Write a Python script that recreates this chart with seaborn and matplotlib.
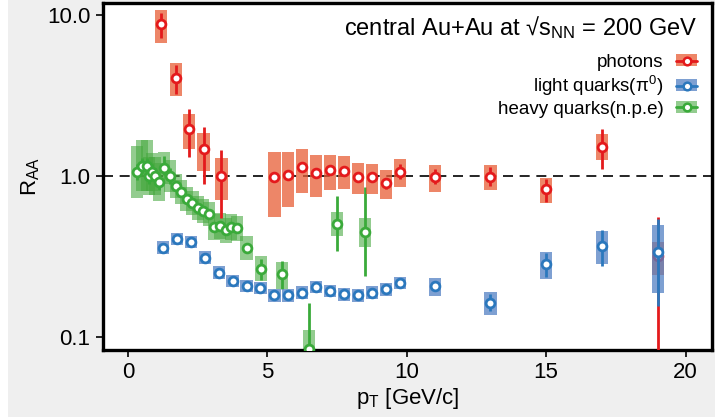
import numpy as np
import pandas as pd
import matplotlib
matplotlib.use("Agg")
import matplotlib.pyplot as plt
from matplotlib.patches import Rectangle
from matplotlib.lines import Line2D
from matplotlib.ticker import NullLocator, FixedLocator, FixedFormatter
import seaborn as sns

# ---------------- direct photons ----------------
pt_gamma = [1.17, 1.71, 2.19, 2.71, 3.35, 5.25, 5.75, 6.25, 6.75, 7.25, 7.75, 8.25,
            8.75, 9.25, 9.75, 11.0, 13.0, 15.0, 17.0, 19.0]
raa_gamma = [8.75, 4.04, 1.96, 1.47, 1.00, 0.99, 1.02, 1.14, 1.04, 1.09, 1.08, 0.98,
             0.98, 0.905, 1.06, 0.99, 0.99, 0.83, 1.52, 0.318]
sys_lo_gamma = [6.73, 3.14, 1.48, 1.07, 0.71, 0.559, 0.642, 0.781, 0.741, 0.815, 0.827, 0.77,
                0.776, 0.72, 0.851, 0.80, 0.819, 0.683, 1.25, 0.243]
sys_hi_gamma = [10.7, 5.03, 2.44, 1.85, 1.29, 1.41, 1.41, 1.48, 1.35, 1.36, 1.33, 1.20,
                1.19, 1.09, 1.27, 1.18, 1.17, 0.976, 1.82, 0.389]
stat_lo_gamma = [7.23, 3.23, 1.31, 0.896, 0.548, 0.95, 0.98, 1.09, 0.99, 1.03, 1.02, 0.93,
                 0.93, 0.83, 0.96, 0.89, 0.867, 0.692, 1.10, 0.005]
stat_hi_gamma = [10.3, 4.89, 2.61, 2.02, 1.45, 1.03, 1.06, 1.20, 1.09, 1.16, 1.15, 1.04,
                 1.04, 0.97, 1.19, 1.10, 1.14, 0.962, 1.95, 0.556]

# ---------------- neutral pions ----------------
pt_pi0 = [1.25, 1.75, 2.25, 2.75, 3.25, 3.75, 4.25, 4.75, 5.25, 5.75, 6.25, 6.75,
          7.25, 7.75, 8.25, 8.75, 9.25, 9.75, 11.0, 13.0, 15.0, 17.0, 19.0]
raa_pi0 = [0.359, 0.406, 0.389, 0.311, 0.251, 0.223, 0.207, 0.202, 0.182, 0.182, 0.188, 0.205,
           0.193, 0.184, 0.182, 0.188, 0.198, 0.217, 0.206, 0.163, 0.285, 0.369, 0.339]
sys_lo_pi0 = [0.328, 0.371, 0.356, 0.284, 0.229, 0.204, 0.189, 0.185, 0.166, 0.166, 0.172, 0.187,
              0.176, 0.168, 0.166, 0.172, 0.181, 0.198, 0.180, 0.136, 0.230, 0.283, 0.188]
sys_hi_pi0 = [0.393, 0.444, 0.426, 0.340, 0.275, 0.244, 0.226, 0.221, 0.199, 0.199, 0.206, 0.224,
              0.211, 0.201, 0.199, 0.206, 0.217, 0.237, 0.233, 0.190, 0.339, 0.455, 0.494]
stat_lo_pi0 = [0.352, 0.398, 0.381, 0.305, 0.246, 0.219, 0.203, 0.198, 0.178, 0.178, 0.184, 0.201,
               0.189, 0.180, 0.178, 0.184, 0.194, 0.210, 0.199, 0.144, 0.236, 0.276, 0.156]
stat_hi_pi0 = [0.366, 0.414, 0.397, 0.317, 0.256, 0.227, 0.211, 0.206, 0.186, 0.186, 0.192, 0.209,
               0.197, 0.188, 0.186, 0.192, 0.202, 0.224, 0.213, 0.184, 0.334, 0.460, 0.541]

# ---------------- non-photonic electrons ----------------
pt_npe = [0.33, 0.49, 0.67, 0.76, 0.86, 0.96, 1.12, 1.30, 1.51, 1.71, 1.90, 2.10, 2.31, 2.50,
          2.70, 2.90, 3.09, 3.30, 3.50, 3.69, 3.90, 4.25, 4.77, 5.51, 6.50, 7.50, 8.50]
raa_npe = [1.06, 1.16, 1.16, 1.00, 1.06, 1.00, 0.92, 1.13, 1.00, 0.87, 0.80, 0.72, 0.68, 0.635,
           0.606, 0.578, 0.482, 0.489, 0.46, 0.482, 0.473, 0.359, 0.266, 0.245, 0.0846, 0.506, 0.451]
sys_lo_npe = [0.733, 0.803, 0.803, 0.759, 0.804, 0.759, 0.698, 0.898, 0.794, 0.732, 0.673, 0.606,
              0.572, 0.534, 0.510, 0.486, 0.402, 0.408, 0.383, 0.402, 0.394, 0.301, 0.223, 0.198,
              0.0796, 0.424, 0.364]
sys_hi_npe = [1.53, 1.68, 1.68, 1.32, 1.40, 1.32, 1.21, 1.42, 1.26, 1.03, 0.951, 0.856,
              0.809, 0.755, 0.721, 0.687, 0.578, 0.587, 0.552, 0.578, 0.568, 0.424, 0.318, 0.294,
              0.110, 0.597, 0.546]
stat_lo_npe = [0.946, 1.04, 1.04, 0.89, 0.946, 0.89, 0.82, 1.01, 0.89, 0.83, 0.76, 0.686,
               0.648, 0.605, 0.577, 0.550, 0.459, 0.466, 0.438, 0.459, 0.450, 0.333, 0.226, 0.198,
               0.005, 0.342, 0.239]
stat_hi_npe = [1.19, 1.30, 1.30, 1.12, 1.19, 1.12, 1.03, 1.33, 1.12, 0.91, 0.84, 0.756,
               0.714, 0.667, 0.636, 0.607, 0.506, 0.513, 0.483, 0.506, 0.497, 0.378, 0.306, 0.296,
               0.163, 0.751, 0.859]

labels = ["photons", "light quarks(π$^{\\mathregular{0}}$)", "heavy quarks(n.p.e)"]

series = [
    # label, pt, raa, sys lo, sys hi, stat lo, stat hi, box colour, box alpha, line colour, z
    (labels[2], pt_npe, raa_npe, sys_lo_npe, sys_hi_npe, stat_lo_npe, stat_hi_npe,
     "#46a83e", 0.58, "#3aaa3a", 2),
    (labels[0], pt_gamma, raa_gamma, sys_lo_gamma, sys_hi_gamma, stat_lo_gamma, stat_hi_gamma,
     "#e85d36", 0.75, "#e41a1c", 5),
    (labels[1], pt_pi0, raa_pi0, sys_lo_pi0, sys_hi_pi0, stat_lo_pi0, stat_hi_pi0,
     "#5380c3", 0.75, "#2b78bd", 8),
]

sns.set_theme(style="white")
plt.rcParams["font.family"] = ["Liberation Sans", "DejaVu Sans"]
plt.rcParams["mathtext.fontset"] = "custom"
plt.rcParams["mathtext.rm"] = "Liberation Sans"
plt.rcParams["mathtext.it"] = "Liberation Sans:italic"
plt.rcParams["mathtext.bf"] = "Liberation Sans:bold"

fig = plt.figure(figsize=(7.15, 4.17), dpi=100, facecolor="#efefef")
fig.add_artist(Rectangle((0, 0), 8 / 715, 1, transform=fig.transFigure,
                         facecolor="white", edgecolor="none", zorder=-10))
ax = fig.add_axes([103 / 715, 1 - 350 / 417, (712 - 103) / 715, (350 - 3) / 417])
ax.set_facecolor("white")
ax.set_yscale("log")

box_w = 0.44
handles = {}
for name, pt, r, slo, shi, elo, ehi, bc, ba, lc, z in series:
    df = pd.DataFrame({"pt": pt, "raa": r, "slo": slo, "shi": shi, "elo": elo, "ehi": ehi})
    ax.bar(df["pt"], df["shi"] - df["slo"], bottom=df["slo"], width=box_w,
           color=bc, alpha=ba, linewidth=0, zorder=z)
    ax.vlines(df["pt"], df["elo"], df["ehi"], color=lc, linewidth=2.0, zorder=z + 1)
    sns.scatterplot(data=df, x="pt", y="raa", ax=ax, color="white", edgecolor=lc,
                    s=40, linewidth=2.0, zorder=z + 2, legend=False)
    handles[name] = (Rectangle((0, 0), 1, 1, facecolor=bc, alpha=ba, edgecolor="none"),
                     Line2D([0], [0], color=lc, linewidth=2.0, marker="o", markersize=5.5,
                            markerfacecolor="white", markeredgecolor=lc, markeredgewidth=1.8))

ax.axhline(1.0, color="black", linewidth=1.2, linestyle=(0, (6, 4)), zorder=1)

ax.set_xlim(-0.9, 20.95)
ax.set_ylim(0.083, 11.9)
ax.xaxis.set_major_locator(FixedLocator([0, 5, 10, 15, 20]))
ax.yaxis.set_major_locator(FixedLocator([0.1, 1.0, 10.0]))
ax.yaxis.set_major_formatter(FixedFormatter(["0.1", "1.0", "10.0"]))
ax.yaxis.set_minor_locator(NullLocator())
ax.tick_params(axis="both", which="major", direction="out", length=5, width=1.2,
               color="black", labelsize=16, pad=4, bottom=True, left=True,
               labelcolor="black")

for sp in ax.spines.values():
    sp.set_visible(True)
    sp.set_color("black")
    sp.set_linewidth(2.4)

ax.set_xlabel(r"p$_{\mathregular{T}}$ [GeV/c]", fontsize=16, color="black", labelpad=2)
ax.set_ylabel(r"R$_{\mathregular{AA}}$", fontsize=16, color="black", labelpad=4)

fig.text(698 / 715, 1 - 28 / 417, "central Au+Au at √s$_{\\mathregular{NN}}$ = 200 GeV",
         ha="right", va="center", fontsize=17, color="black")

order = [labels[0], labels[1], labels[2]]
leg = ax.legend([handles[k] for k in order], order, loc="upper right",
                bbox_to_anchor=(697 / 715, 1 - 54 / 417), bbox_transform=fig.transFigure,
                frameon=False, markerfirst=False, fontsize=13.5, handlelength=1.1,
                handleheight=0.6, handletextpad=0.7, labelspacing=0.15,
                borderpad=0, borderaxespad=0)
for t in leg.get_texts():
    t.set_color("black")

fig.savefig("out.png", dpi=100, facecolor=fig.get_facecolor())
